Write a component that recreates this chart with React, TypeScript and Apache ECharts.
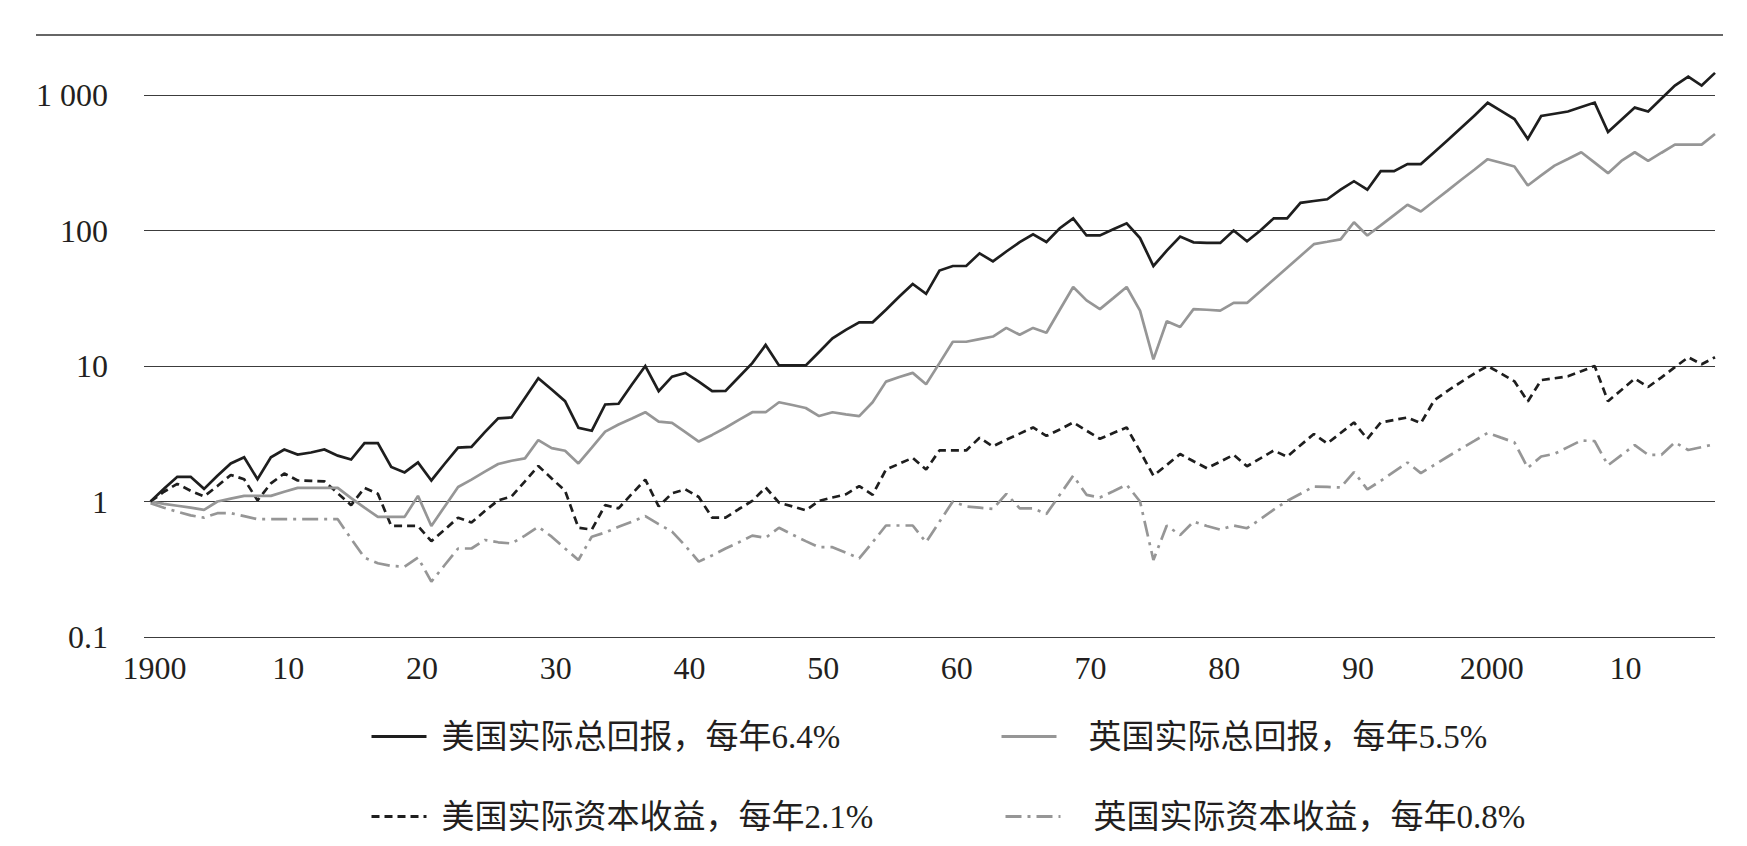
import React, { useEffect, useRef } from "react";
import * as echarts from "echarts";

// Index values, start = 1 (first point), one value per year-end
const START_YEAR = 1900;

const usTotal = [
  1.00, 1.24, 1.52, 1.52, 1.24, 1.55, 1.91, 2.12, 1.46, 2.12,
  2.42, 2.22, 2.30, 2.42, 2.18, 2.04, 2.70, 2.70, 1.80, 1.64,
  1.94, 1.43, 1.90, 2.50, 2.53, 3.25, 4.11, 4.17, 5.80, 8.13,
  6.70, 5.50, 3.50, 3.33, 5.20, 5.26, 7.30, 10.0, 6.52, 8.34,
  8.90, 7.67, 6.52, 6.55, 8.30, 10.5, 14.3, 10.1, 10.1, 10.1,
  12.7, 16.0, 18.5, 21.0, 21.0, 26.0, 32.6, 40.3, 34.1, 50.6,
  54.7, 54.7, 67.8, 59.1, 70.0, 82.0, 93.7, 82.3, 104, 123,
  91.9, 91.9, 102, 113, 87.9, 54.7, 71.0, 90.2, 81.8, 81.0,
  80.9, 100, 83.4, 100, 123, 123, 160, 165, 170, 200,
  231, 200, 274, 274, 309, 309, 378, 463, 571, 704,
  876, 763, 665, 474, 700, 727, 756, 815, 879, 533,
  656, 807, 756, 943, 1175, 1365, 1175, 1456,
];

const ukTotal = [
  1.00, 0.96, 0.93, 0.90, 0.867, 1.00, 1.05, 1.10, 1.10, 1.10,
  1.18, 1.26, 1.26, 1.26, 1.26, 1.06, 0.90, 0.77, 0.77, 0.77,
  1.10, 0.66, 0.92, 1.28, 1.45, 1.66, 1.89, 2.00, 2.08, 2.84,
  2.48, 2.37, 1.91, 2.50, 3.28, 3.70, 4.10, 4.56, 3.88, 3.80,
  3.25, 2.77, 3.10, 3.50, 4.00, 4.56, 4.56, 5.40, 5.15, 4.90,
  4.27, 4.56, 4.40, 4.27, 5.40, 7.67, 8.30, 8.90, 7.33, 10.5,
  15.1, 15.1, 15.8, 16.5, 19.1, 17.0, 19.1, 17.6, 26.0, 38.3,
  30.5, 26.3, 31.7, 38.3, 25.6, 11.2, 21.4, 19.4, 26.3, 26.0,
  25.6, 29.2, 29.2, 35.6, 43.5, 53.1, 64.9, 79.3, 82.6, 86.1,
  115, 91.9, 109, 130, 155, 138, 165, 197, 236, 281,
  336, 316, 297, 215, 255, 301, 337, 378, 317, 265,
  326, 378, 326, 375, 430, 430, 430, 516,
];

const usCapital = [
  1.00, 1.18, 1.35, 1.20, 1.09, 1.30, 1.57, 1.46, 1.02, 1.36,
  1.61, 1.43, 1.42, 1.41, 1.15, 0.94, 1.26, 1.14, 0.66, 0.66,
  0.66, 0.51, 0.62, 0.76, 0.70, 0.85, 1.02, 1.09, 1.41, 1.83,
  1.48, 1.20, 0.64, 0.62, 0.94, 0.89, 1.14, 1.45, 0.92, 1.15,
  1.23, 1.08, 0.76, 0.76, 0.88, 1.01, 1.27, 0.98, 0.92, 0.86,
  1.01, 1.07, 1.13, 1.30, 1.12, 1.72, 1.90, 2.10, 1.72, 2.38,
  2.38, 2.38, 2.95, 2.55, 2.86, 3.17, 3.52, 3.05, 3.40, 3.83,
  3.33, 2.90, 3.20, 3.52, 2.35, 1.55, 1.86, 2.24, 1.98, 1.76,
  1.97, 2.21, 1.82, 2.08, 2.38, 2.14, 2.60, 3.15, 2.68, 3.20,
  3.83, 2.90, 3.83, 4.00, 4.17, 3.78, 5.58, 6.56, 7.60, 8.80,
  10.0, 8.80, 7.71, 5.47, 7.87, 8.12, 8.39, 9.15, 10.0, 5.50,
  6.65, 8.07, 7.00, 8.25, 9.80, 11.6, 10.3, 11.6,
];

const ukCapital = [
  0.97, 0.90, 0.84, 0.79, 0.76, 0.82, 0.82, 0.78, 0.74, 0.74,
  0.74, 0.74, 0.74, 0.74, 0.74, 0.53, 0.385, 0.35, 0.335, 0.33,
  0.385, 0.256, 0.34, 0.45, 0.45, 0.52, 0.50, 0.49, 0.56, 0.65,
  0.55, 0.45, 0.37, 0.55, 0.59, 0.65, 0.71, 0.78, 0.68, 0.60,
  0.47, 0.36, 0.40, 0.45, 0.50, 0.56, 0.54, 0.64, 0.57, 0.51,
  0.46, 0.46, 0.42, 0.38, 0.50, 0.665, 0.665, 0.665, 0.50, 0.71,
  1.00, 0.92, 0.90, 0.88, 1.14, 0.89, 0.89, 0.81, 1.12, 1.55,
  1.12, 1.07, 1.19, 1.33, 1.00, 0.37, 0.665, 0.565, 0.71, 0.66,
  0.62, 0.665, 0.635, 0.74, 0.87, 1.01, 1.14, 1.29, 1.28, 1.27,
  1.65, 1.23, 1.42, 1.66, 1.94, 1.62, 1.86, 2.14, 2.45, 2.80,
  3.21, 2.96, 2.73, 1.77, 2.15, 2.25, 2.52, 2.82, 2.79, 1.85,
  2.20, 2.61, 2.21, 2.21, 2.73, 2.40, 2.52, 2.65,
];

const xTickYears = [1900, 1910, 1920, 1930, 1940, 1950, 1960, 1970, 1980, 1990, 2000, 2010];
const seriesNames = [
  "美国实际总回报，每年6.4%",
  "英国实际总回报，每年5.5%",
  "美国实际资本收益，每年2.1%",
  "英国实际资本收益，每年0.8%",
];

const FONT = '"Liberation Serif", "Noto Sans CJK SC", serif';
const BLACK = "#1e1e1e";
const GRAY = "#969696";
const LABEL_SHIFT = 0.3;

export default function App() {
  const ref = useRef<HTMLDivElement>(null);

  useEffect(() => {
    if (!ref.current) return;
    const chart = echarts.init(ref.current, null, { renderer: "svg" });
    const toPairs = (arr: number[]) => arr.map((v, i) => [START_YEAR + i, v]);

    const legendBase = (name: string, left: number, top: number, pad: number) => ({
      data: [name],
      left,
      top,
      orient: "horizontal",
      padding: 0,
      itemWidth: 55,
      itemHeight: 14,
      itemGap: 0,
      selectedMode: false,
      itemStyle: { opacity: 0, borderWidth: 0 },
      lineStyle: { width: 3 },
      textStyle: { fontFamily: FONT, fontSize: 33, color: "#231f20", padding: [0, 0, 0, pad] },
    });

    chart.setOption({
      animation: false,
      backgroundColor: "#ffffff",
      grid: { left: 144, right: 32, top: 95, bottom: 209, containLabel: false },
      graphic: [
        {
          type: "line",
          shape: { x1: 36, y1: 35, x2: 1723, y2: 35 },
          style: { stroke: "#333333", lineWidth: 1.3 },
          silent: true,
        },
      ],
      xAxis: {
        type: "value",
        min: 1899.51,
        max: 2017,
        axisLine: { show: false },
        axisTick: { show: false },
        splitLine: { show: false },
        axisLabel: {
          customValues: xTickYears.map((y) => y + LABEL_SHIFT),
          formatter: (v: number) => {
            const y = Math.round(v - LABEL_SHIFT);
            if (y % 100 === 0) return String(y);
            return String(y % 100).padStart(2, "0");
          },
          fontFamily: FONT,
          fontSize: 32,
          color: "#231f20",
          margin: 15,
        },
      },
      yAxis: {
        type: "log",
        logBase: 10,
        min: 0.1,
        max: 1000,
        axisLine: { show: false },
        axisTick: { show: false },
        splitLine: { show: true, lineStyle: { color: "#3c3c3c", width: 1.2 } },
        axisLabel: {
          fontFamily: FONT,
          fontSize: 32,
          color: "#231f20",
          margin: 36,
          formatter: (v: number) => {
            if (v >= 1000) return "1 000";
            if (v < 1) return "0.1";
            return String(Math.round(v));
          },
        },
      },
      legend: [
        legendBase(seriesNames[0], 370, 720, 10),
        legendBase(seriesNames[1], 1000, 720, 27),
        legendBase(seriesNames[2], 370, 800, 10),
        legendBase(seriesNames[3], 1004, 800, 28),
      ],
      series: [
        {
          name: seriesNames[0],
          type: "line",
          data: toPairs(usTotal),
          symbol: "none",
          clip: false,
          lineStyle: { color: BLACK, width: 2.7, join: "miter" },
          itemStyle: { color: BLACK },
          z: 5,
        },
        {
          name: seriesNames[1],
          type: "line",
          data: toPairs(ukTotal),
          symbol: "none",
          clip: false,
          lineStyle: { color: GRAY, width: 2.7 },
          itemStyle: { color: GRAY },
          z: 4,
        },
        {
          name: seriesNames[2],
          type: "line",
          data: toPairs(usCapital),
          symbol: "none",
          clip: false,
          lineStyle: { color: BLACK, width: 2.7, type: [8, 5] },
          itemStyle: { color: BLACK },
          z: 3,
        },
        {
          name: seriesNames[3],
          type: "line",
          data: toPairs(ukCapital),
          symbol: "none",
          clip: false,
          lineStyle: { color: GRAY, width: 2.7, type: [16, 6, 3, 6] },
          itemStyle: { color: GRAY },
          z: 2,
        },
      ],
    });

    return () => chart.dispose();
  }, []);

  return (
    <div
      ref={ref}
      style={{ position: "fixed", left: 0, top: 0, width: 1747, height: 846, background: "#fff" }}
    />
  );
}
